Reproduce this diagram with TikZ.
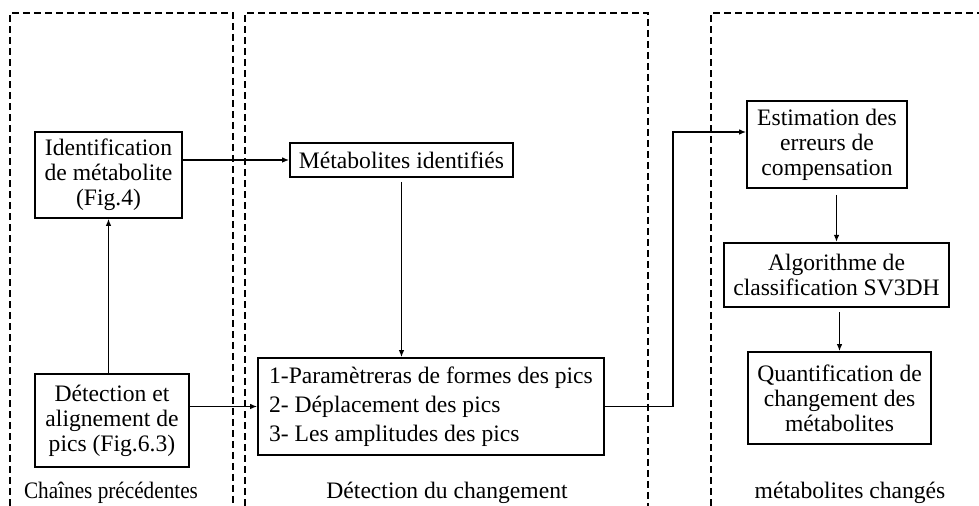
\documentclass[tikz,border=0pt]{standalone}
\usepackage{fontspec}
\setmainfont{Liberation Serif}
\usetikzlibrary{arrows.meta}

\begin{document}
\begin{tikzpicture}[x=0.5pt,y=-0.5pt,
  box/.style={draw,line width=0.85pt,align=center,inner sep=0pt,
    font=\fontsize{11.8}{12.5}\selectfont},
  zone/.style={dashed,line width=0.95pt,dash pattern=on 3.3pt off 2.2pt},
  flow/.style={line width=0.8pt,-{Latex[length=3.5pt,width=2.8pt]}},
  label/.style={font=\fontsize{11.8}{12.5}\selectfont}]
\useasboundingbox (0,0) rectangle (979,506);
% zones
\draw[zone] (10,506) -- (10,13) -- (233,13) -- (233,506);
\draw[zone] (245,506) -- (245,13) -- (648,13) -- (648,506);
\draw[zone] (711,506) -- (711,13) -- (979,13);
\node[label,xscale=0.9] (zoneA) at (111,493) {Chaînes précédentes};
\node[label] (zoneB) at (447,493) {Détection du changement};
\node[label] (zoneC) at (850,493) {métabolites changés};
% boxes
\node[box,minimum width=73.5pt,minimum height=43pt] (ident) at (108.5,175) {Identification\\de métabolite\\(Fig.4)};
\node[box,minimum width=77pt,minimum height=46.5pt] (detect) at (112,420.5) {Détection et\\alignement de\\pics (Fig.6.3)};
\node[box,minimum width=111.5pt,minimum height=17pt] (metab) at (401.5,160) {Métabolites identifiés};
\node[box,minimum width=173pt,minimum height=48.5pt,align=left,inner xsep=5pt,
  font=\fontsize{11.8}{14.5}\selectfont] (params) at (431,406.5)
  {1-Paramètreras de formes des pics\\2- Déplacement des pics\\3- Les amplitudes des pics};
\node[box,minimum width=80pt,minimum height=43.5pt] (estim) at (827,144.5) {Estimation des\\erreurs de\\compensation};
\node[box,line width=1.1pt,minimum width=112.5pt,minimum height=32pt] (algo) at (836.5,275) {Algorithme de\\classification SV3DH};
\node[box,minimum width=91.5pt,minimum height=46pt] (quant) at (839.5,398) {Quantification de\\changement des\\métabolites};
% connectors
\coordinate (turn) at (673,132);
\draw[flow] (ident.east |- metab.west) -- (metab.west);
\draw[flow] (detect.north -| ident.south) -- (ident.south);
\draw[flow] (detect.east |- params.west) -- (params.west);
\draw[flow,shorten <=2pt] (metab.south) -- (metab.south |- params.north);
\draw[flow] (params.east) -| (turn) -- (turn -| estim.west);
\draw[flow,shorten <=3pt] (estim.south -| algo.north) -- (algo.north);
\draw[flow,shorten <=2pt] (algo.south -| quant.north) -- (quant.north);
\end{tikzpicture}
\end{document}
